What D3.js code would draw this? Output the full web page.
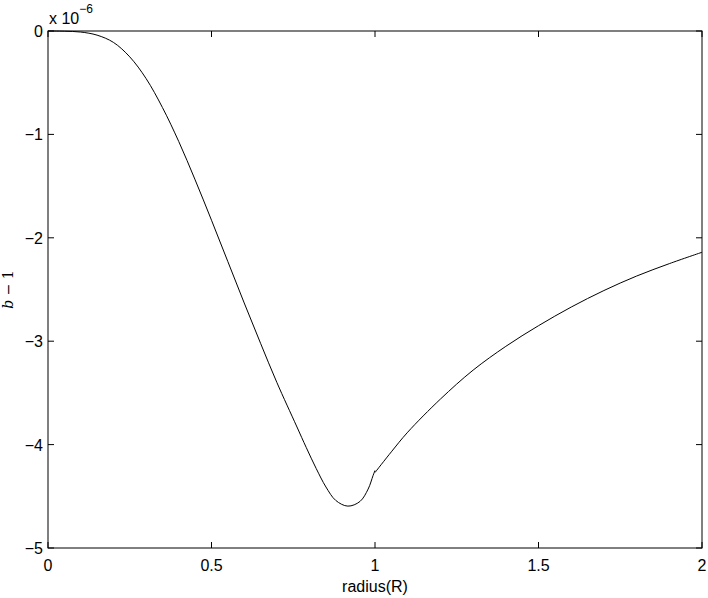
<!DOCTYPE html>
<html>
<head>
<meta charset="utf-8">
<script src="https://cdn.jsdelivr.net/npm/d3@7"></script>
<style>
  body { margin: 0; background: #fff; }
  text { font-family: "Liberation Sans", Arial, sans-serif; }
</style>
</head>
<body>
<svg id="chart" width="708" height="598"></svg>
<script>
// inner part (r < 1), values in units of 1e-6
var innerR = [0, 0.05, 0.1, 0.15, 0.2, 0.25, 0.3, 0.35, 0.4, 0.45, 0.5, 0.55, 0.6, 0.65, 0.7, 0.76, 0.79, 0.82, 0.85, 0.88, 0.917, 0.954, 0.979, 0.994, 1.0];
var innerB = [0, -0.002, -0.01, -0.04, -0.11, -0.25, -0.46, -0.74, -1.07, -1.44, -1.83, -2.23, -2.63, -3.02, -3.4, -3.82, -4.03, -4.23, -4.41, -4.54, -4.595, -4.55, -4.43, -4.3, -4.25];
// outer part (r >= 1)
var outerR = [1.0, 1.05, 1.1, 1.2, 1.3, 1.4, 1.5, 1.6, 1.7, 1.8, 1.9, 2.0];
var outerB = [-4.27, -4.07, -3.88, -3.56, -3.28, -3.05, -2.85, -2.67, -2.51, -2.37, -2.25, -2.14];

var xTicks = [0, 0.5, 1, 1.5, 2];
var yTicks = [0, -1, -2, -3, -4, -5];

var svg = d3.select("#chart");
var pLeft = 48, pRight = 702, pTop = 31, pBottom = 548;

var x = d3.scaleLinear().domain([0, 2]).range([pLeft, pRight]);
var y = d3.scaleLinear().domain([-5, 0]).range([pBottom, pTop]);

var line = d3.line()
    .x(function(d) { return x(d[0]); })
    .y(function(d) { return y(d[1]); })
    .curve(d3.curveCatmullRom.alpha(0.5));

function pairs(a, b) { return a.map(function(v, i) { return [v, b[i]]; }); }

// box
svg.append("rect")
    .attr("x", pLeft).attr("y", pTop)
    .attr("width", pRight - pLeft).attr("height", pBottom - pTop)
    .attr("fill", "none").attr("stroke", "#000").attr("stroke-width", 1);

// ticks inside, on all four sides
var tl = 6;
xTicks.forEach(function(t) {
    svg.append("line").attr("x1", x(t)).attr("x2", x(t)).attr("y1", pBottom).attr("y2", pBottom - tl).attr("stroke", "#000");
    svg.append("line").attr("x1", x(t)).attr("x2", x(t)).attr("y1", pTop).attr("y2", pTop + tl).attr("stroke", "#000");
    svg.append("text").attr("x", x(t)).attr("y", pBottom + 23)
        .attr("text-anchor", "middle").attr("font-size", 16).text(t);
});
yTicks.forEach(function(t) {
    svg.append("line").attr("x1", pLeft).attr("x2", pLeft + tl).attr("y1", y(t)).attr("y2", y(t)).attr("stroke", "#000");
    svg.append("line").attr("x1", pRight).attr("x2", pRight - tl).attr("y1", y(t)).attr("y2", y(t)).attr("stroke", "#000");
    svg.append("text").attr("x", pLeft - 5).attr("y", y(t) + 6)
        .attr("text-anchor", "end").attr("font-size", 16).text(t === 0 ? "0" : "\u2212" + Math.abs(t));
});

// exponent
var ex = svg.append("text").attr("x", 49).attr("y", 24).attr("font-size", 16);
ex.append("tspan").text("x 10");
ex.append("tspan").attr("dy", -11).attr("font-size", 12).text("\u22126");

// curves
svg.append("path").datum(pairs(innerR, innerB))
    .attr("d", line).attr("fill", "none").attr("stroke", "#000").attr("stroke-width", 1);
svg.append("path").datum(pairs(outerR, outerB))
    .attr("d", line).attr("fill", "none").attr("stroke", "#000").attr("stroke-width", 1);

// axis labels
svg.append("text").attr("x", (pLeft + pRight) / 2).attr("y", 592)
    .attr("text-anchor", "middle").attr("font-size", 16).text("radius(R)");
var yl = svg.append("text")
    .attr("transform", "translate(13," + ((pTop + pBottom) / 2) + ") rotate(-90)")
    .attr("text-anchor", "middle").attr("font-size", 14)
    .style("font-family", "'DejaVu Serif', serif");
yl.append("tspan").attr("font-style", "italic").text("b");
yl.append("tspan").text(" \u2212 1");
</script>
</body>
</html>
